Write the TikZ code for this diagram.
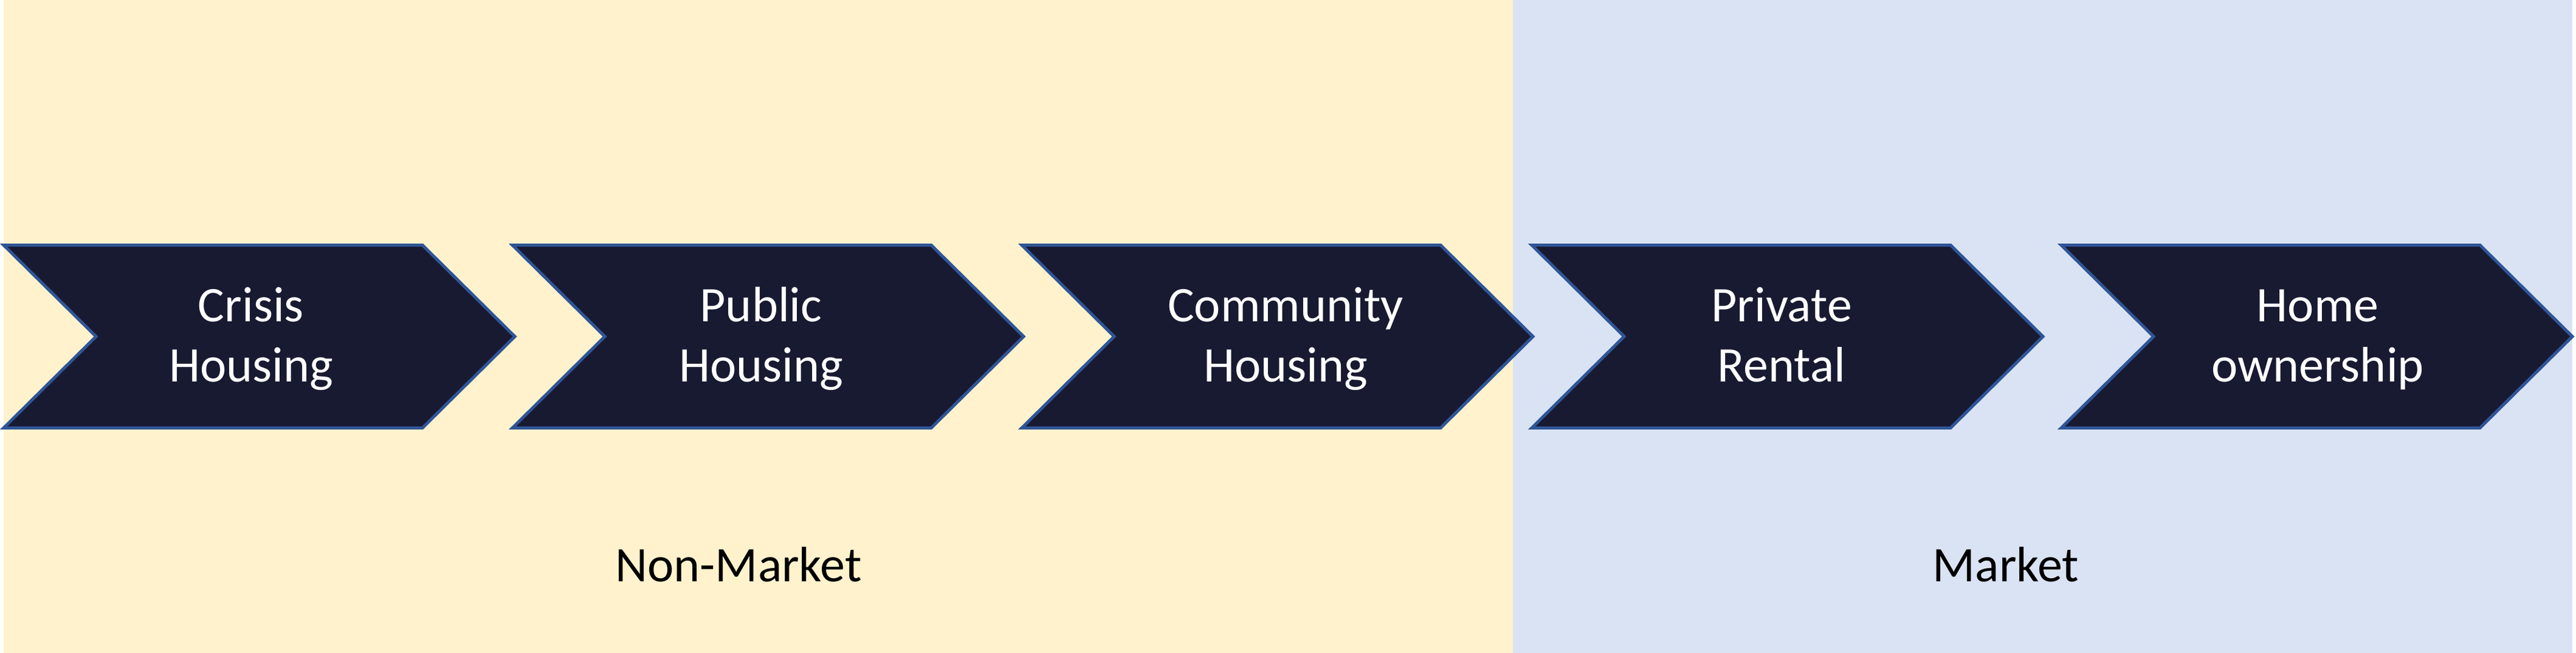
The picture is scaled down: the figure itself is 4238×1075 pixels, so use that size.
\documentclass[tikz,border=0pt]{standalone}
\usepackage{fontspec}
\setmainfont{Carlito}
\definecolor{bgyellow}{HTML}{FFF2CC}
\definecolor{bgblue}{HTML}{DAE3F3}
\definecolor{navy}{HTML}{181A32}
\definecolor{edgeblue}{HTML}{2F5597}
\begin{document}
\begin{tikzpicture}[x=1pt,y=-1pt,
  chev/.style={fill=navy,draw=edgeblue,line width=5pt,line join=miter},
  lbl/.style={text=white,font=\fontsize{82}{99}\selectfont,inner sep=0pt,anchor=base},
  zone/.style={text=black,font=\fontsize{82}{99}\selectfont,inner sep=0pt,anchor=base}]
\useasboundingbox (0,0) rectangle (4238,1075);
\fill[bgyellow] (6,0) rectangle (2489,1075);
\fill[bgblue] (2489,0) rectangle (4232,1075);
\foreach \x in {6,843,1681,2520,3391} {
  \draw[chev] (\x,403.5) -- ++(689,0) -- ++(152,150.5) -- ++(-152,150.5)
    -- ++(-689,0) -- ++(152,-150.5) -- cycle;
}
\node[lbl] (c1a) at (413,529) {Crisis};
\node[lbl] (c1b) at (413,628) {Housing};
\node[lbl] (c2a) at (1252,529) {Public};
\node[lbl] (c2b) at (1252,628) {Housing};
\node[lbl] (c3a) at (2115,529) {Community};
\node[lbl] (c3b) at (2115,628) {Housing};
\node[lbl] (c4a) at (2931,529) {Private};
\node[lbl] (c4b) at (2931,628) {Rental};
\node[lbl] (c5a) at (3813,529) {Home};
\node[lbl] (c5b) at (3813,628) {ownership};
\node[zone] (nonmarket) at (1215,957) {Non-Market};
\node[zone] (market) at (3300,957) {Market};
\end{tikzpicture}
\end{document}
